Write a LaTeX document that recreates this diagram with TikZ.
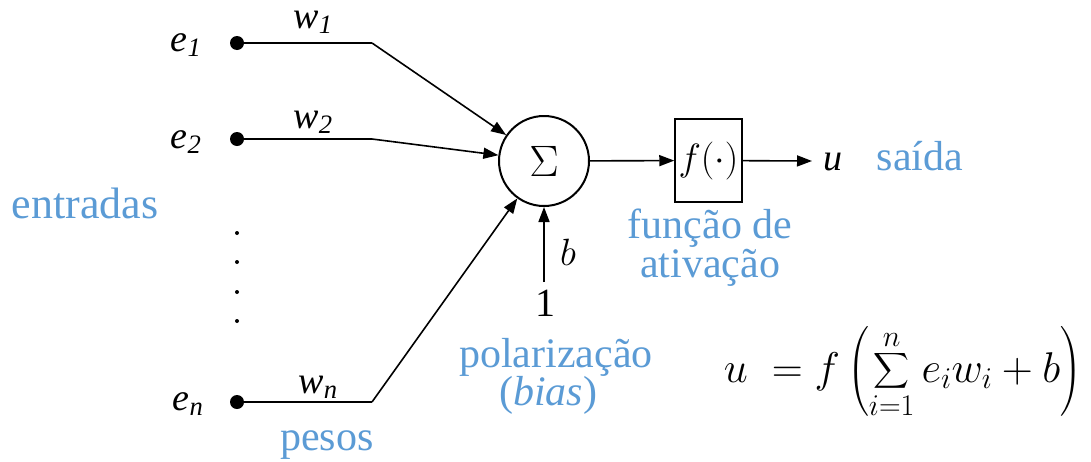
\RequirePackage{fix-cm}
\documentclass[tikz,border=0pt]{standalone}
\usepackage{exscale}
\usepackage{fontspec}
\setmainfont{Liberation Serif}
\usetikzlibrary{arrows.meta}
\definecolor{lblue}{HTML}{5B9BD5}
\begin{document}
\begin{tikzpicture}[x=1pt,y=-1pt,
  dot/.style={circle,fill,inner sep=0pt,minimum size=14pt},
  sdot/.style={circle,fill,inner sep=0pt,minimum size=4pt},
  wire/.style={line width=2pt},
  arr/.style={line width=1.6pt,-{Triangle[length=15pt,width=11pt]}},
  lbl/.style={font=\fontsize{38}{44}\selectfont, inner sep=0pt, anchor=base},
  bluetxt/.style={text=lblue, font=\fontsize{42}{46}\selectfont, inner sep=0pt, anchor=base},
]
\useasboundingbox (0,0) rectangle (1091,461);

% inputs
\node[dot] (e1) at (237,43) {};
\node[dot] (e2) at (237,139) {};
\node[dot] (en) at (237,402) {};
\coordinate (k1) at (372,43);
\coordinate (k2) at (372,139);
\coordinate (kn) at (372,402);
\node[sdot] (d1) at (237,233) {};
\node[sdot] (d2) at (237,262) {};
\node[sdot] (d3) at (237,292) {};
\node[sdot] (d4) at (237,321) {};

\node[lbl] (le1) at (186,51) {\textit{e}\textsubscript{\textit{1}}};
\node[lbl] (le2) at (186,148) {\textit{e}\textsubscript{\textit{2}}};
\node[lbl] (len) at (188,410) {\textit{e}\textsubscript{\textit{n}}};
\node[lbl] (lw1) at (313,28) {\textit{w}\textsubscript{\textit{1}}};
\node[lbl] (lw2) at (313,128) {\textit{w}\textsubscript{\textit{2}}};
\node[lbl] (lwn) at (318,393) {\textit{w}\textsubscript{\textit{n}}};

% summation and activation
\node[circle,draw,line width=2pt,minimum size=90pt,inner sep=0pt,
      font=\fontsize{44}{50}\selectfont] (sum) at (544,161) {$\Sigma$};
\node[draw,line width=1.5pt,minimum width=67pt,minimum height=83pt,inner sep=0pt,
      font=\fontsize{38}{44}\selectfont] (f) at (708.5,160.5) {$f(\cdot)$};
\coordinate (out) at (812,161);
\coordinate (one) at (544,282);
\node[lbl,font=\fontsize{40}{44}\selectfont] (onelbl) at (545,316) {1};
\node[lbl] (lb) at (568,265) {$b$};
\node[lbl] (lu) at (833,170) {\textit{u}};

\draw[wire] (e1.center) -- (k1);
\draw[wire] (e2.center) -- (k2);
\draw[wire] (en.center) -- (kn);
\draw[arr] (k1) -- (sum);
\draw[arr] (k2) -- (sum);
\draw[arr] (kn) -- (sum);
\draw[arr] (one) -- (sum.south);
\draw[arr] (sum) -- (f);
\draw[arr] (f) -- (out);

% blue captions
\node[bluetxt,font=\fontsize{44}{48}\selectfont] (entradas) at (85,218) {entradas};
\node[bluetxt] (pesos) at (327,450) {pesos};
\node[bluetxt] (saida) at (920,170) {saída};
\node[bluetxt] (funcao) at (710,238) {função de};
\node[bluetxt] (ativacao) at (710,277) {ativação};
\node[bluetxt] (polar) at (556,367) {polarização};
\node[bluetxt] (bias) at (548,405) {(\textit{bias})};

% formula
\node[inner sep=0pt,font=\fontsize{43}{50}\selectfont] (formula) at (903,372)
  {$\displaystyle u\;=f\left(\sum_{i=1}^{n}e_iw_i+b\right)$};
\end{tikzpicture}
\end{document}
